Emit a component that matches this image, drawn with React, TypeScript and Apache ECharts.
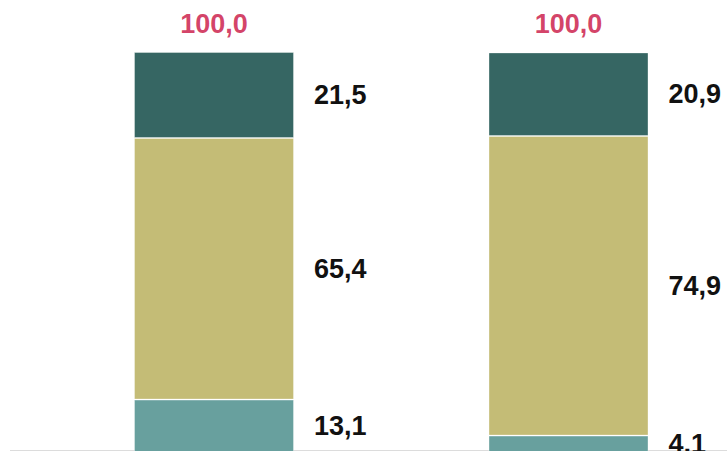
import React, { useEffect, useRef } from "react";
import * as echarts from "echarts";

const categories = ["Groupe 1", "Groupe 2"];
const bottomValues = [13.1, 4.1];
const middleValues = [65.4, 74.9];
const topValues = [21.5, 20.9];
const totals = [100.0, 100.0];

const fmt = (v: number) => v.toFixed(1).replace(".", ",");

export default function App() {
  const ref = useRef<HTMLDivElement>(null);
  useEffect(() => {
    if (!ref.current) return;
    const chart = echarts.init(ref.current, undefined, { renderer: "svg" });
    const labelStyle = {
      show: true,
      position: "right" as const,
      distance: 20,
      color: "#111",
      fontFamily: "Liberation Sans, Arial, sans-serif",
      fontWeight: "bold" as const,
      fontSize: 27,
      formatter: (p: any) => fmt(p.value),
    };
    const mk = (name: string, data: number[], color: string) => ({
      name,
      type: "bar",
      stack: "total",
      data,
      barWidth: 160,
      clip: false,
      itemStyle: { color, borderColor: "rgba(255,255,255,0.35)", borderWidth: 1 },
      label: labelStyle,
    });
    chart.setOption({
      animation: false,
      grid: {
        left: 36.75,
        top: 52,
        width: 709,
        height: 400,
        containLabel: false,
        outerBoundsMode: "none",
      },
      xAxis: {
        type: "category",
        data: categories,
        axisLine: { show: false },
        axisTick: { show: false },
        axisLabel: { show: false },
      },
      yAxis: {
        type: "value",
        min: 0,
        max: 100,
        show: false,
        splitLine: { show: false },
      },
      graphic: [
        {
          type: "line",
          shape: { x1: 10, y1: 450.5, x2: 727, y2: 450.5 },
          style: { stroke: "#dcdcdc", lineWidth: 1 },
          z: 0,
        },
      ],
      series: [
        mk("bottom", bottomValues, "#68A09E"),
        mk("middle", middleValues, "#C4BC76"),
        mk("top", topValues, "#366663"),
        {
          name: "total",
          type: "scatter",
          data: totals,
          symbolSize: 0,
          silent: true,
          clip: false,
          label: {
            show: true,
            position: "top",
            distance: 15,
            color: "#C8103F",
            fontFamily: "Liberation Sans, Arial, sans-serif",
            fontWeight: "bold",
            fontSize: 27,
            formatter: (p: any) => fmt(p.value),
          },
        },
      ],
    });
    return () => chart.dispose();
  }, []);
  return (
    <div
      ref={ref}
      style={{ position: "fixed", left: 0, top: 0, width: 727, height: 451, background: "#fff" }}
    />
  );
}
